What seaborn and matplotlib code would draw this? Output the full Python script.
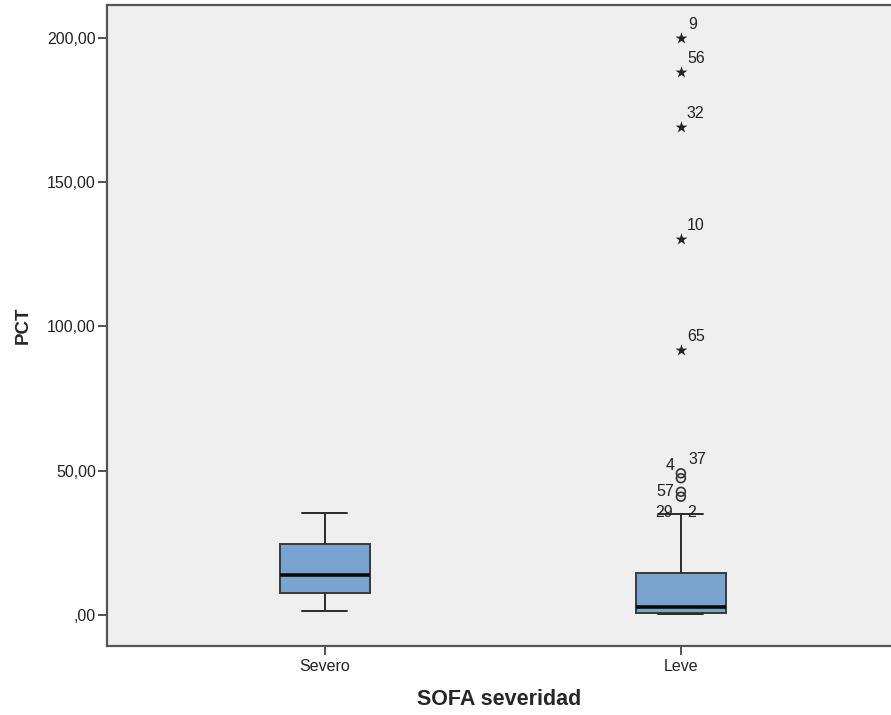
import matplotlib
matplotlib.use("Agg")
import matplotlib.pyplot as plt
import seaborn as sns
import pandas as pd

# Five-number summaries of PCT per SOFA severity group
groups = ["Severo", "Leve"]
whisker_low = [1.4, 0.3]
q1 = [7.6, 0.7]
median = [13.9, 2.8]
q3 = [24.6, 14.6]
whisker_high = [35.4, 35.0]

# Individual cases beyond the whiskers (Leve group)
outlier_group = ["Leve"] * 9
outlier_value = [200.0, 188.2, 169.1, 130.3, 91.9, 49.1, 47.4, 42.7, 41.0]
outlier_id = ["9", "56", "32", "10", "65", "37", "4", "", "57"]
outlier_extreme = [True, True, True, True, True, False, False, False, False]

# Case ids sitting on the upper whisker of Leve
whisker_case_ids = ["29", "2"]

yticks = [0, 50, 100, 150, 200]
ytick_labels = [",00", "50,00", "100,00", "150,00", "200,00"]

rows = []
for g, lo, a, m, b, hi in zip(groups, whisker_low, q1, median, q3, whisker_high):
    for v in (lo, a, m, b, hi):
        rows.append({"SOFA severidad": g, "PCT": v})
df = pd.DataFrame(rows)

sns.set_theme(style="white")
plt.rcParams["font.family"] = ["Liberation Sans", "DejaVu Sans"]

fig = plt.figure(figsize=(8.91, 7.15), dpi=100)
ax = fig.add_axes([0.120, 0.0965, 0.880, 0.8965])
ax.set_facecolor("#efefef")

edge = "#2b2b2b"
sns.boxplot(
    data=df, x="SOFA severidad", y="PCT", order=groups, ax=ax,
    whis=(0, 100), showfliers=False, width=0.253,
    color="#78a4cf", saturation=1,
    boxprops=dict(edgecolor="#3a3a3a", linewidth=1.4),
    whiskerprops=dict(color=edge, linewidth=1.4),
    capprops=dict(color=edge, linewidth=1.4),
    medianprops=dict(color="#0a0a0a", linewidth=2.6),
)

pos = [groups.index(g) for g in outlier_group]
ext_x = [p for p, e in zip(pos, outlier_extreme) if e]
ext_y = [v for v, e in zip(outlier_value, outlier_extreme) if e]
mild_x = [p for p, e in zip(pos, outlier_extreme) if not e]
mild_y = [v for v, e in zip(outlier_value, outlier_extreme) if not e]

ax.scatter(ext_x, ext_y, marker="*", s=80, color="#222222", linewidths=0, zorder=5)
ax.scatter(mild_x, mild_y, marker="o", s=40, facecolors="none",
           edgecolors="#333333", linewidths=1.2, zorder=5)

# Case labels next to each outlier: (dx, dy, horizontal alignment)
label_offsets = {"9": (5, 9.5, "left"), "56": (4.3, 9.5, "left"), "32": (4.3, 9.5, "left"),
                 "10": (4.3, 9.5, "left"), "65": (4.3, 9.5, "left"),
                 "37": (5.5, 10, "left"), "4": (-4.5, 9.5, "right"), "57": (-5, 4, "right")}
label_size = 11.5
for p, v, cid in zip(pos, outlier_value, outlier_id):
    if not cid:
        continue
    dx, dy, ha = label_offsets[cid]
    ax.annotate(cid, (p, v), xytext=(dx, dy), textcoords="offset points",
                fontsize=label_size, color="#222222", va="center", ha=ha)

leve = groups.index("Leve")
hi_leve = whisker_high[leve]
ax.annotate(whisker_case_ids[0], (leve, hi_leve), xytext=(-5.5, 1.2), textcoords="offset points",
            fontsize=label_size, color="#222222", va="center", ha="right")
ax.annotate(whisker_case_ids[1], (leve, hi_leve), xytext=(4.3, 1.2), textcoords="offset points",
            fontsize=label_size, color="#222222", va="center", ha="left")

ax.set_xlim(-0.612, 1.59)
ax.set_ylim(-10.75, 211.4)
ax.set_yticks(yticks)
ax.set_yticklabels(ytick_labels)
ax.tick_params(axis="both", which="major", direction="out", length=6.5, width=1.3,
               color="#444444", labelsize=11.5, labelcolor="#222222", pad=1.5,
               left=True, bottom=True)
ax.tick_params(axis="x", pad=3)

for side in ("left", "bottom", "top"):
    ax.spines[side].set_color("#555555")
    ax.spines[side].set_linewidth(1.6)
ax.spines["right"].set_visible(False)

ax.set_xlabel("SOFA severidad", fontsize=15.5, fontweight="bold", labelpad=11)
ax.set_ylabel("PCT", fontsize=13.5, fontweight="bold", labelpad=11)

fig.savefig("out.png", dpi=100, facecolor="white")
